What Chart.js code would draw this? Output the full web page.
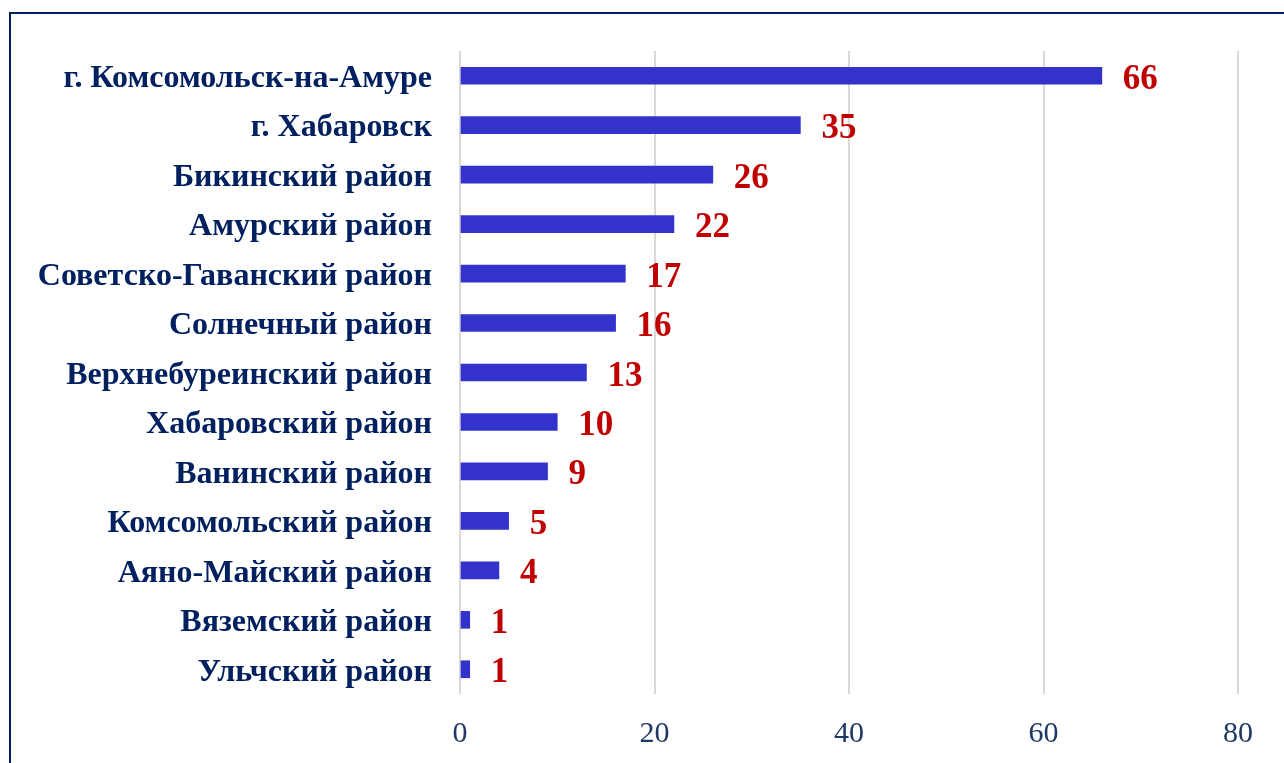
<!DOCTYPE html>
<html>
<head>
<meta charset="utf-8">
<script src="https://cdn.jsdelivr.net/npm/chart.js@4"></script>
<style>
    html, body { margin: 0; padding: 0; background: #fff; }
    #wrap { position: relative; width: 1284px; height: 763px; overflow: hidden; }
    #frame {
        position: absolute; left: 9px; top: 12px; width: 1290px; height: 800px;
        border-top: 2px solid #002060; border-left: 2px solid #002060;
    }
    canvas { position: absolute; left: 0; top: 0; }
</style>
</head>
<body>
<div id="wrap">
    <div id="frame"></div>
    <canvas id="chart" width="1284" height="763"></canvas>
</div>
<script>
const districts = [
    'г. Комсомольск-на-Амуре',
    'г. Хабаровск',
    'Бикинский район',
    'Амурский район',
    'Советско-Гаванский район',
    'Солнечный район',
    'Верхнебуреинский район',
    'Хабаровский район',
    'Ванинский район',
    'Комсомольский район',
    'Аяно-Майский район',
    'Вяземский район',
    'Ульчский район',
];
const counts = [66, 35, 26, 22, 17, 16, 13, 10, 9, 5, 4, 1, 1];
const xTicks = [0, 20, 40, 60, 80];

// draws the red number right after each bar
const valueLabels = {
    id: 'valueLabels',
    afterDatasetsDraw(chart) {
        const ctx = chart.ctx;
        const meta = chart.getDatasetMeta(0);
        ctx.save();
        ctx.font = 'bold 35px "Liberation Serif", "Times New Roman", serif';
        ctx.fillStyle = '#c00000';
        ctx.textAlign = 'left';
        ctx.textBaseline = 'middle';
        meta.data.forEach((bar, i) => {
            ctx.fillText(String(counts[i]), bar.x + 21, bar.y + 4);
        });
        ctx.restore();
    }
};

new Chart(document.getElementById('chart'), {
    type: 'bar',
    data: {
        labels: districts,
        datasets: [{
            data: counts,
            backgroundColor: '#3333cc',
            borderWidth: 0,
            barThickness: 17,
        }]
    },
    options: {
        indexAxis: 'y',
        responsive: false,
        animation: false,
        layout: { padding: { top: 51, right: 46, left: 0, bottom: 0 } },
        plugins: {
            legend: { display: false },
            tooltip: { enabled: false },
        },
        scales: {
            x: {
                min: 0,
                max: 80,
                afterBuildTicks(axis) {
                    axis.ticks = xTicks.map(v => ({ value: v }));
                },
                afterFit(axis) { axis.height = 69; },
                grid: { color: '#d9d9d9', lineWidth: 2, drawTicks: false },
                border: { display: false },
                ticks: {
                    padding: 22,
                    color: '#1f3864',
                    font: { family: '"Liberation Serif", "Times New Roman", serif', size: 30 },
                },
            },
            y: {
                afterFit(axis) { axis.width = 460; },
                grid: { display: false, drawTicks: false },
                border: { display: false },
                ticks: {
                    padding: 28,
                    labelOffset: 3,
                    color: '#002060',
                    font: { family: '"Liberation Serif", "Times New Roman", serif', size: 32, weight: 'bold' },
                },
            },
        },
    },
    plugins: [valueLabels],
});
</script>
</body>
</html>
